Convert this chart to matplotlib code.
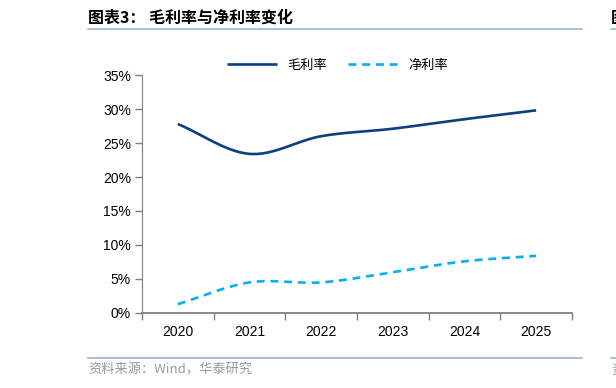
import numpy as np
import matplotlib.pyplot as plt

plt.rcParams['font.family'] = ['Liberation Sans', 'Noto Sans CJK SC', 'DejaVu Sans']

years = ['2020', '2021', '2022', '2023', '2024', '2025']
gross_margin = [27.8, 23.4, 26.0, 27.1, 28.5, 29.8]
net_margin = [1.3, 4.5, 4.5, 6.0, 7.6, 8.4]
y_ticks = [0, 5, 10, 15, 20, 25, 30, 35]


def smooth(x, y, n=30):
    # catmull-rom curve through the points, like excel's smoothed line
    x = np.asarray(x, float)
    y = np.asarray(y, float)
    px = np.concatenate([[2 * x[0] - x[1]], x, [2 * x[-1] - x[-2]]])
    py = np.concatenate([[2 * y[0] - y[1]], y, [2 * y[-1] - y[-2]]])
    xs, ys = [], []
    t = np.linspace(0, 1, n)
    for i in range(1, len(px) - 2):
        for p, out in ((px, xs), (py, ys)):
            p0, p1, p2, p3 = p[i - 1], p[i], p[i + 1], p[i + 2]
            out.extend(0.5 * ((2 * p1) + (-p0 + p2) * t
                              + (2 * p0 - 5 * p1 + 4 * p2 - p3) * t ** 2
                              + (-p0 + 3 * p1 - 3 * p2 + p3) * t ** 3))
    return np.array(xs), np.array(ys)


fig = plt.figure(figsize=(6.16, 3.88), dpi=100)
ax = fig.add_axes([0.2305, 0.1933, 0.698, 0.6134])

x = np.arange(len(years))
gx, gy = smooth(x, gross_margin)
nx, ny = smooth(x, net_margin)
ax.plot(gx, gy, color='#0B3F80', lw=1.9, label='毛利率', solid_capstyle='butt')
ax.plot(nx, ny, color='#00B0F0', lw=1.9, dashes=(3, 2.2), label='净利率')

ax.set_xlim(-0.5, len(years) - 0.5)
ax.set_ylim(0, 35)
ax.set_yticks(y_ticks)
ax.set_yticklabels([f'{v}%' for v in y_ticks], fontsize=10)
ax.set_xticks(np.arange(-0.5, len(years), 1))
ax.set_xticklabels([])
ax.set_xticks(x, minor=True)
ax.set_xticklabels(years, minor=True, fontsize=10)
ax.tick_params(axis='x', which='minor', length=0, pad=9)
ax.tick_params(axis='x', which='major', length=5, color='#7f7f7f', width=1)
ax.tick_params(axis='y', length=5, color='#7f7f7f', width=1, pad=3)

for s in ['top', 'right']:
    ax.spines[s].set_visible(False)
ax.spines['left'].set_color('#7f7f7f')
ax.spines['bottom'].set_color('#7f7f7f')
ax.spines['bottom'].set_linewidth(1.3)

ax.legend(loc='center', bbox_to_anchor=(0.548, 1 - 65 / 388), bbox_transform=fig.transFigure,
          ncol=2, frameon=False, handlelength=3.8, columnspacing=1.6,
          prop={'family': ['Noto Sans CJK SC'], 'size': 9.5})

# header / footer
fig.text(88 / 616, 1 - 18 / 388, '图表3： 毛利率与净利率变化', fontsize=11.5, fontweight='bold',
         family=['Noto Sans CJK SC'], va='center', ha='left')
fig.text(88 / 616, 1 - 370 / 388, '资料来源：Wind，华泰研究', fontsize=9.5, color='#999999',
         family=['Noto Sans CJK SC', 'Liberation Sans'], va='center', ha='left')
fig.add_artist(plt.Line2D([88 / 616, 582 / 616], [1 - 29 / 388] * 2, color='#9DB5D6', lw=1.2))
fig.add_artist(plt.Line2D([88 / 616, 582 / 616], [1 - 358 / 388] * 2, color='#9DB5D6', lw=1.2))
fig.add_artist(plt.Line2D([611 / 616, 1], [1 - 29 / 388] * 2, color='#9DB5D6', lw=1.2))
fig.add_artist(plt.Line2D([611 / 616, 1], [1 - 358 / 388] * 2, color='#9DB5D6', lw=1.2))
fig.text(611 / 616, 1 - 18 / 388, '图', fontsize=11.5, fontweight='bold',
         family=['Noto Sans CJK SC'], va='center', ha='left')
fig.text(611 / 616, 1 - 370 / 388, '资', fontsize=9.5, color='#999999',
         family=['Noto Sans CJK SC'], va='center', ha='left')

fig.savefig('out.png', dpi=100)
